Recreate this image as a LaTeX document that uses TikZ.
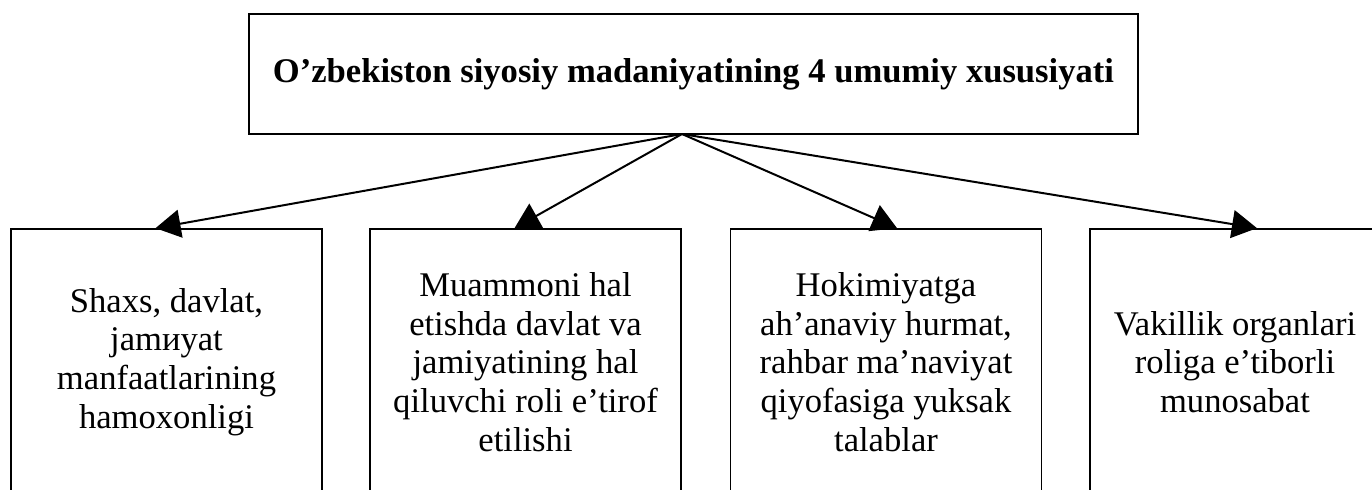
\documentclass[tikz,border=0pt]{standalone}
\usepackage{fontspec}
\setmainfont{Liberation Serif}
\usetikzlibrary{arrows.meta}

\begin{document}
\begin{tikzpicture}[
    x=0.5pt, y=-0.5pt,
    every node/.style={draw, rectangle, line width=0.85pt, align=center, inner sep=0pt},
    title/.style={minimum width=444.5pt, minimum height=60pt, font=\fontsize{17.3}{21}\selectfont\bfseries},
    trait/.style={minimum width=155.5pt, minimum height=133pt, font=\fontsize{17.3}{19.3}\selectfont},
    arr/.style={-{Triangle[length=12.5pt, width=14pt]}, line width=1pt}
]
\useasboundingbox (0,0) rectangle (1372,489);

\node[title] (title) at (693.5,74) {O’zbekiston siyosiy madaniyatining 4 umumiy xususiyati};
\coordinate (hub) at (682,134);

\node[trait] (t1) at (166.5,362) {Shaxs, davlat,\\ jamиyat\\ manfaatlarining\\ hamoxonligi};
\node[trait] (t2) at (525.5,362) {Muammoni hal\\ etishda davlat va\\ jamiyatining hal\\ qiluvchi roli e’tirof\\ etilishi};
\node[trait] (t3) at (886,362) {Hokimiyatga\\ ah’anaviy hurmat,\\ rahbar ma’naviyat\\ qiyofasiga yuksak\\ talablar};
\node[trait, minimum width=145pt] (t4) at (1235,362) {Vakillik organlari\\ roliga e’tiborli\\ munosabat};

\draw[arr] (hub) -- ([xshift=-5.5pt]t1.north);
\draw[arr] (hub) -- ([xshift=-5.5pt]t2.north);
\draw[arr] (hub) -- ([xshift=5.5pt]t3.north);
\draw[arr] (hub) -- ([xshift=11pt]t4.north);
\end{tikzpicture}
\end{document}
